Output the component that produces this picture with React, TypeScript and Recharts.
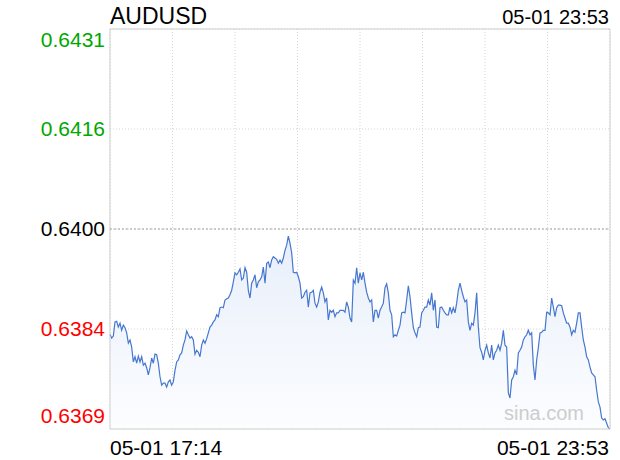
import { AreaChart, Area, XAxis, YAxis, CartesianGrid, ReferenceLine, ReferenceArea } from "recharts";

const title = "AUDUSD";
const stamp = "05-01 23:53";
const watermark = "sina.com";

// minute prices, 17:14 -> 23:53
const prices = [
  0.63837, 0.63831, 0.63834, 0.63856, 0.63857, 0.63848, 0.63854, 0.63843, 0.63851, 0.63847,
  0.63839, 0.63823, 0.63828, 0.63817, 0.63794, 0.63802, 0.63792, 0.63803, 0.63794, 0.63802,
  0.63789, 0.63792, 0.63785, 0.63774, 0.63785, 0.638, 0.63792, 0.63806, 0.63805, 0.63792,
  0.63771, 0.63758, 0.63761, 0.63761, 0.63755, 0.63763, 0.63766, 0.63758, 0.63763, 0.63781,
  0.63794, 0.63797, 0.63805, 0.63808, 0.6382, 0.63828, 0.63842, 0.63836, 0.63831, 0.63833,
  0.63828, 0.63806, 0.63812, 0.63809, 0.63802, 0.6382, 0.63828, 0.63823, 0.6383, 0.63839,
  0.63848, 0.63851, 0.63856, 0.63859, 0.63867, 0.63864, 0.63878, 0.63879, 0.63878, 0.6389,
  0.63892, 0.63893, 0.63898, 0.63905, 0.63918, 0.63932, 0.63929,
  0.63933, 0.63938, 0.63921, 0.63924, 0.6394, 0.63933, 0.63905, 0.63893, 0.63916, 0.63921,
  0.63929, 0.63909, 0.63918, 0.63921, 0.63926, 0.63941, 0.63916, 0.63947, 0.63949, 0.6394,
  0.63952, 0.63957, 0.63955, 0.63953, 0.63947, 0.63952, 0.63947, 0.63955, 0.63967, 0.63975,
  0.63989, 0.63978, 0.63963, 0.63933, 0.63932, 0.63933, 0.63926, 0.63916, 0.63893, 0.63895,
  0.63902, 0.63905, 0.63879, 0.63901, 0.63902, 0.63905, 0.63885, 0.63879, 0.63887, 0.63902,
  0.6391, 0.63901, 0.63887, 0.63893, 0.63859, 0.63874, 0.63871, 0.63874, 0.63864, 0.6387,
  0.6387, 0.63874, 0.63874, 0.63874, 0.63871, 0.63887, 0.63879, 0.63862, 0.63856, 0.63921,
  0.63916, 0.6394, 0.63916, 0.63932, 0.63921,
  0.63933, 0.63916, 0.63902, 0.63893, 0.63887, 0.6389, 0.63856, 0.63874, 0.63874, 0.63862,
  0.63874, 0.63879, 0.63885, 0.63909, 0.63915, 0.63901, 0.63874, 0.63867, 0.63833, 0.63836,
  0.63834, 0.63843, 0.63851, 0.6387, 0.63871, 0.6387, 0.6389, 0.63912, 0.63895, 0.6387,
  0.63847, 0.63839, 0.63833, 0.63847, 0.63848, 0.6387, 0.63874, 0.63879, 0.63879, 0.6389,
  0.63882, 0.63901, 0.63874, 0.6389, 0.63848, 0.63847, 0.63878, 0.63879, 0.63874, 0.6387,
  0.63867, 0.63867, 0.63879, 0.6387, 0.63878, 0.6387, 0.63885, 0.63905, 0.63916, 0.63905,
  0.63895, 0.63887, 0.6389, 0.63856, 0.63843, 0.63854, 0.63851, 0.6387, 0.63901, 0.63848,
  0.63816, 0.63809, 0.63797, 0.63812, 0.6382, 0.63808, 0.638,
  0.6382, 0.63797, 0.63808, 0.63812, 0.6382, 0.63812, 0.63823, 0.63843, 0.6382, 0.63817,
  0.63746, 0.63738, 0.63766, 0.63771, 0.63781, 0.63774, 0.63808, 0.63812, 0.63817, 0.63828,
  0.63833, 0.63836, 0.63843, 0.63836, 0.63839, 0.63789, 0.63766, 0.63797, 0.63816, 0.63839,
  0.6384, 0.63843, 0.63843, 0.63871, 0.6387, 0.63867, 0.63893, 0.63879, 0.63864, 0.63878,
  0.63882, 0.63882, 0.63881, 0.6387, 0.63862, 0.63854, 0.63854, 0.63848, 0.63836, 0.63843,
  0.6384, 0.63854, 0.6387, 0.6387, 0.63848, 0.63828, 0.63817, 0.63802, 0.63797, 0.63786,
  0.63777, 0.63774, 0.63771, 0.6375, 0.63732, 0.63724, 0.63707, 0.63704, 0.63706, 0.63699,
  0.63692, 0.6369,
];

const prevClose = 0.64;
const yTicks = [0.6369, 0.63845, 0.64, 0.64155, 0.6431];
const yLabels = ["0.6369", "0.6384", "0.6400", "0.6416", "0.6431"];
const xLabels = ["05-01 17:14", "05-01 23:53"];
const xGrid = [0, 37.5, 75, 112.5, 150, 187.5, 225, 262.5, 300];

const data = prices.map((p, i) => ({ i, p }));
const lastIdx = prices.length - 1;

const FONT = '"Liberation Sans", Arial, Helvetica, sans-serif';

function YTick(props: any) {
  const { y, payload, index } = props;
  const v = payload.value;
  const color = v > prevClose ? "#00a800" : v < prevClose ? "#f00" : "#000";
  let by = y + 7;
  if (index === 0) by = y - 6;
  if (index === yTicks.length - 1) by = y + 18;
  return (
    <text x={105} y={by} textAnchor="end" fill={color} fontSize={21} fontFamily={FONT}>
      {yLabels[index]}
    </text>
  );
}

function XTick(props: any) {
  const { x, payload } = props;
  if (payload.value === 0) {
    return (
      <text x={x} y={455} textAnchor="start" fill="#000" fontSize={21} fontFamily={FONT}>
        {xLabels[0]}
      </text>
    );
  }
  if (payload.value === lastIdx) {
    return (
      <text x={x - 1} y={455} textAnchor="end" fill="#000" fontSize={21} fontFamily={FONT}>
        {xLabels[1]}
      </text>
    );
  }
  return <g />;
}

export default function App() {
  return (
    <div style={{ position: "fixed", left: 0, top: 0, width: 620, height: 460, background: "#fff" }}>
      <AreaChart width={620} height={460} data={data} margin={{ top: 29, right: 10, left: 0, bottom: 0 }}>
        <defs>
          <linearGradient id="fillAud" x1="0" y1="0" x2="0" y2="1">
            <stop offset="0%" stopColor="#e8effa" />
            <stop offset="100%" stopColor="#fcfdff" />
          </linearGradient>
        </defs>
        <CartesianGrid stroke="#d4d4d4" strokeDasharray="1 2" />
        <XAxis
          type="number"
          dataKey="i"
          domain={[0, lastIdx]}
          ticks={xGrid}
          axisLine={false}
          tickLine={false}
          height={31}
          tick={<XTick />}
          interval={0}
        />
        <YAxis
          type="number"
          domain={[0.6369, 0.6431]}
          ticks={yTicks}
          axisLine={false}
          tickLine={false}
          width={110}
          tick={<YTick />}
          interval={0}
        />
        <ReferenceLine y={prevClose} stroke="#a0a0a0" strokeDasharray="2 2" />
        <Area
          type="linear"
          dataKey="p"
          stroke="#4677cf"
          strokeWidth={1.2}
          fill="url(#fillAud)"
          fillOpacity={1}
          dot={false}
          activeDot={false}
          isAnimationActive={false}
        />
        <ReferenceArea x1={0} x2={lastIdx} y1={0.6369} y2={0.6431} fill="none" stroke="#cfcfcf" />
      </AreaChart>
      <svg width={620} height={460} style={{ position: "absolute", left: 0, top: 0, pointerEvents: "none" }}>
        <text x={110} y={24} fontSize={23} fontFamily={FONT} fill="#000">{title}</text>
        <text x={609} y={24} fontSize={20} fontFamily={FONT} fill="#000" textAnchor="end">{stamp}</text>
        <text x={584} y={420} fontSize={20} fontFamily={FONT} fill="#cdcdcd" textAnchor="end">{watermark}</text>
      </svg>
    </div>
  );
}
